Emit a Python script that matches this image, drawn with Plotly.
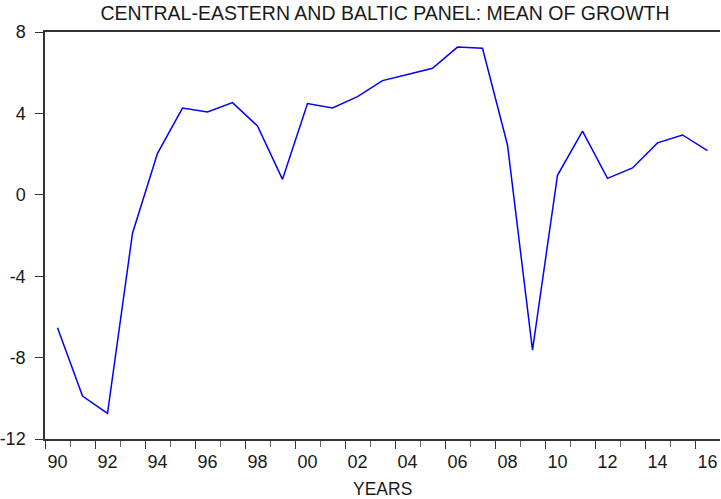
import plotly.graph_objects as go

# Annual observations, 1990-2016
years = list(range(1990, 2017))
growth = [-6.53, -9.89, -10.74, -1.89, 2.04, 4.26, 4.07, 4.53, 3.38, 0.76,
          4.48, 4.27, 4.82, 5.61, 5.91, 6.22, 7.26, 7.20, 2.45, -7.63,
          0.96, 3.13, 0.81, 1.32, 2.55, 2.94, 2.17]

y_ticks = [-12, -8, -4, 0, 4, 8]
y_tick_text = ["-12", "-8", "-4", "0", "4", "8"]
label_years = list(range(1990, 2017, 2))
label_text = [f"{y % 100:02d}" for y in label_years]

x_lo, x_hi = years[0] - 0.5, years[-1] + 0.5
major_bounds = [y - 0.5 for y in label_years]
minor_bounds = [y + 0.5 for y in label_years if y + 0.5 < x_hi]

axis_col = "#333333"
font_family = "Liberation Sans, Arial, sans-serif"

fig = go.Figure()
fig.add_trace(go.Scatter(x=years, y=growth, mode="lines",
                         line=dict(color="#0000ff", width=1.5),
                         showlegend=False, xaxis="x", yaxis="y"))
# invisible trace that carries the label axis
fig.add_trace(go.Scatter(x=[years[0]], y=[growth[0]], mode="markers",
                         marker=dict(opacity=0), showlegend=False,
                         hoverinfo="skip", xaxis="x2", yaxis="y"))

fig.update_layout(
    width=721, height=499,
    margin=dict(l=45, r=1, t=32, b=60),
    paper_bgcolor="white", plot_bgcolor="white",
    font=dict(family=font_family, size=18, color="#1a1a1a"),
    title=dict(text="CENTRAL-EASTERN AND BALTIC PANEL: MEAN OF GROWTH",
               x=0.534, xanchor="center", y=0.974, yanchor="middle",
               font=dict(size=19.5, color="#1a1a1a")),
    xaxis=dict(range=[x_lo, x_hi], tickmode="array", tickvals=major_bounds,
               ticktext=[""] * len(major_bounds), ticks="outside", ticklen=8,
               tickwidth=1, tickcolor=axis_col, showgrid=False, zeroline=False,
               showline=True, linecolor=axis_col, linewidth=1.5, mirror=True,
               automargin=False,
               minor=dict(tickmode="array", tickvals=minor_bounds,
                          ticks="outside", ticklen=6, tickcolor="#666666",
                          showgrid=False)),
    xaxis2=dict(range=[x_lo, x_hi], overlaying="x", side="bottom",
                tickmode="array", tickvals=label_years, ticktext=label_text,
                ticks="", showgrid=False, zeroline=False, showline=False,
                automargin=False, ticklabelstandoff=10, tickfont=dict(size=18)),
    yaxis=dict(range=[-12, 8], tickmode="array", tickvals=y_ticks,
               ticktext=y_tick_text,
               ticks="outside", ticklen=8, tickwidth=1, tickcolor=axis_col,
               showgrid=False, zeroline=False, showline=True,
               linecolor=axis_col, linewidth=1.5, ticklabelstandoff=6,
               automargin=False, tickfont=dict(size=18)),
    annotations=[dict(text="YEARS", xref="paper", yref="paper", x=0.5, y=0,
                      xanchor="center", yanchor="middle", yshift=-50,
                      showarrow=False, font=dict(size=17.5, color="#1a1a1a"))],
)

fig.write_html("out.html")
